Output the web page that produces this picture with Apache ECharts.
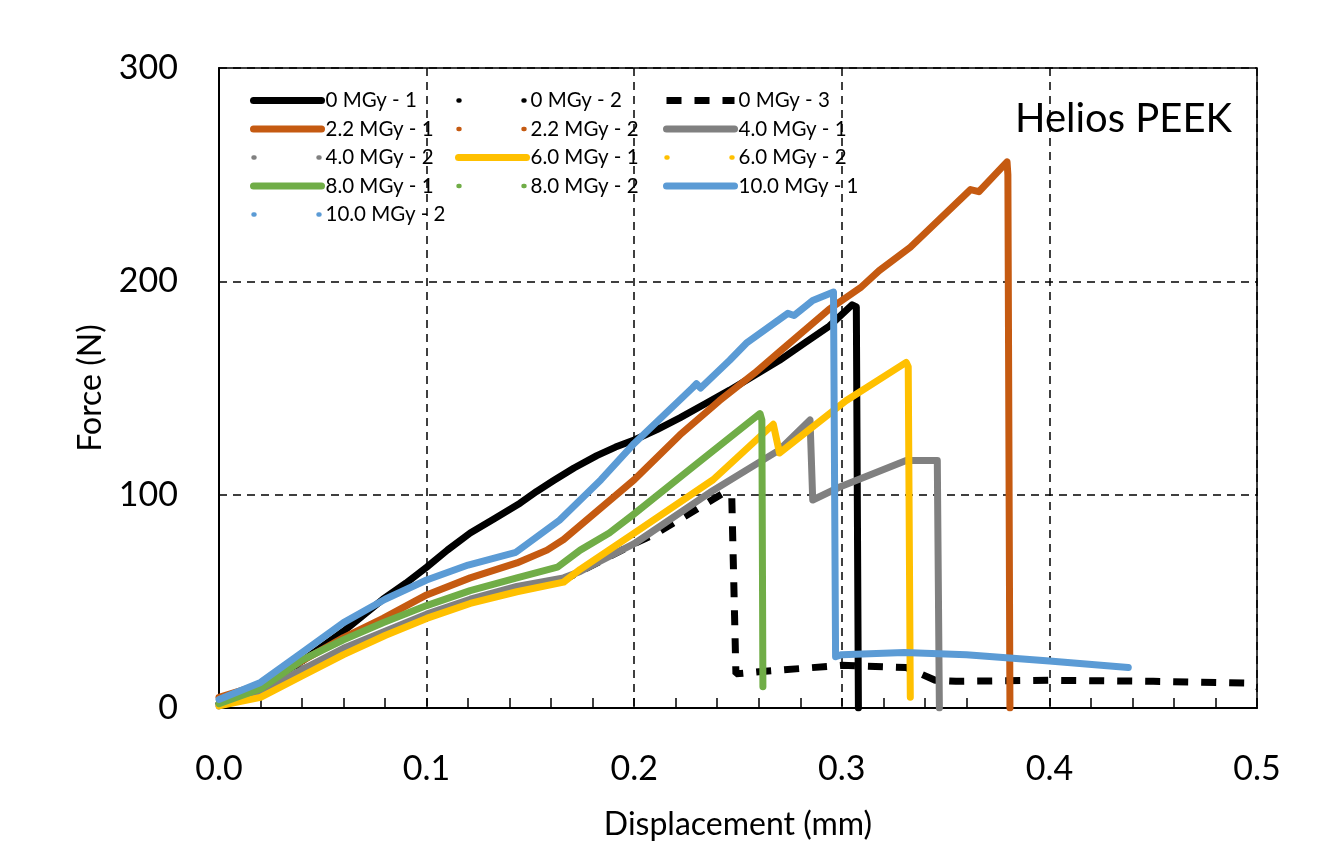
<!DOCTYPE html>
<html>
<head>
<meta charset="utf-8">
<script src="https://cdn.jsdelivr.net/npm/echarts@6/dist/echarts.min.js"></script>
<style>
  html, body { margin: 0; padding: 0; background: #fff; }
  #chart { width: 1332px; height: 857px; }
</style>
</head>
<body>
<div id="chart"></div>
<script>
// [displacement (mm), force (N)]
var mgy0_1 = [[0, 2], [0.02, 10], [0.04, 22], [0.06, 36], [0.079, 51], [0.09, 58.5], [0.1, 66], [0.11, 74],
  [0.121, 82], [0.133, 89], [0.145, 96], [0.153, 101.5], [0.161, 106.5], [0.171, 112.5], [0.182, 118.3],
  [0.191, 122.3], [0.2, 125.6], [0.211, 130.5], [0.222, 136], [0.234, 142.5], [0.246, 149], [0.258, 156],
  [0.27, 163], [0.282, 171], [0.294, 179], [0.305, 189], [0.307, 188], [0.308, 0]];
var mgy0_2 = [];
var mgy0_3 = [[0, 2], [0.05, 22], [0.1, 43], [0.14, 55], [0.166, 60], [0.2, 77], [0.211, 82], [0.243, 100.8],
  [0.247, 99], [0.249, 16], [0.26, 17], [0.3, 20], [0.331, 19], [0.345, 13], [0.355, 12.5], [0.4, 13],
  [0.45, 12.5], [0.495, 11.7], [0.5, 10]];
var mgy22_1 = [[0, 5], [0.02, 11], [0.04, 22], [0.06, 33], [0.079, 42], [0.1, 53], [0.121, 61], [0.1435, 68],
  [0.158, 74], [0.166, 79], [0.2, 107], [0.222, 128], [0.241, 144], [0.258, 157], [0.27, 167], [0.294, 187],
  [0.309, 197], [0.318, 205], [0.333, 216], [0.362, 243], [0.366, 242], [0.3796, 256], [0.38, 250], [0.381, 0]];
var mgy22_2 = [];
var mgy40_1 = [[0, 1], [0.02, 7], [0.04, 18], [0.06, 28], [0.08, 36], [0.1, 44], [0.121, 51], [0.1435, 57],
  [0.166, 61], [0.174, 64], [0.2, 77], [0.238, 102], [0.27, 121], [0.2847, 135], [0.286, 97.5],
  [0.299, 103.6], [0.331, 116], [0.346, 116], [0.347, 0]];
var mgy40_2 = [];
var mgy60_1 = [[0, 1], [0.02, 5], [0.04, 15], [0.06, 25], [0.08, 34], [0.1, 42], [0.121, 49], [0.1435, 54.5],
  [0.166, 59], [0.174, 65], [0.2, 82], [0.238, 107], [0.267, 133], [0.27, 119.5], [0.302, 144],
  [0.331, 162], [0.332, 160], [0.333, 5]];
var mgy60_2 = [];
var mgy80_1 = [[0, 2], [0.02, 9], [0.04, 22.5], [0.06, 32], [0.079, 40], [0.1, 48], [0.121, 55], [0.1435, 61],
  [0.163, 66], [0.174, 74], [0.188, 82], [0.2, 91], [0.227, 112], [0.2606, 138], [0.2615, 135], [0.262, 10]];
var mgy80_2 = [];
var mgy100_1 = [[0, 4], [0.02, 12], [0.04, 26], [0.06, 40], [0.08, 51], [0.1, 60], [0.12, 67], [0.143, 73],
  [0.164, 88], [0.184, 107], [0.2, 124], [0.228, 150], [0.23, 152], [0.232, 150], [0.246, 163],
  [0.254, 171], [0.274, 185], [0.277, 184], [0.286, 191], [0.296, 195], [0.297, 24], [0.3, 25],
  [0.33, 26], [0.36, 25], [0.4, 22], [0.438, 19]];
var mgy100_2 = [];

var xTicks = [0, 0.1, 0.2, 0.3, 0.4, 0.5];
var yTicks = [0, 100, 200, 300];

var font = 'Lato, "Open Sans", sans-serif';

function solid(name, data, color) {
  return {
    name: name, type: 'line', data: data, symbol: 'none', animation: false,
    lineStyle: { color: color, width: 7, cap: 'round', join: 'round' },
    itemStyle: { color: color }
  };
}
function sparse(name, data, color) {
  return {
    name: name, type: 'line', data: data, symbol: 'none', animation: false,
    lineStyle: { color: color, width: 4.5, type: [1, 64], cap: 'round' },
    itemStyle: { color: color }
  };
}

var series = [
  solid('0 MGy - 1', mgy0_1, '#000000'),
  sparse('0 MGy - 2', mgy0_2, '#000000'),
  {
    name: '0 MGy - 3', type: 'line', data: mgy0_3, symbol: 'none', animation: false,
    lineStyle: { color: '#000000', width: 7, type: [15, 13], cap: 'butt' },
    itemStyle: { color: '#000000' }
  },
  solid('2.2 MGy - 1', mgy22_1, '#C55A11'),
  sparse('2.2 MGy - 2', mgy22_2, '#C55A11'),
  solid('4.0 MGy - 1', mgy40_1, '#808080'),
  sparse('4.0 MGy - 2', mgy40_2, '#808080'),
  solid('6.0 MGy - 1', mgy60_1, '#FFC000'),
  sparse('6.0 MGy - 2', mgy60_2, '#FFC000'),
  solid('8.0 MGy - 1', mgy80_1, '#70AD47'),
  sparse('8.0 MGy - 2', mgy80_2, '#70AD47'),
  solid('10.0 MGy - 1', mgy100_1, '#5B9BD5'),
  sparse('10.0 MGy - 2', mgy100_2, '#5B9BD5')
];

function legendCol(left, names) {
  return {
    orient: 'vertical', left: left, top: 90, padding: 0,
    itemWidth: 68, itemHeight: 12, itemGap: 7.5,
    selectedMode: false, data: names,
    itemStyle: { opacity: 0 },
    lineStyle: { width: 'inherit' },
    textStyle: { fontFamily: font, fontSize: 20.5, color: '#000', lineHeight: 21, padding: [0, 0, 0, -1] }
  };
}

var chart = echarts.init(document.getElementById('chart'));
chart.setOption({
  backgroundColor: '#fff',
  animation: false,
  title: {
    text: 'Helios PEEK', right: 95, top: 94,
    textStyle: { fontFamily: font, fontSize: 40, fontWeight: 'normal', color: '#000' }
  },
  legend: [
    legendCol(250, ['0 MGy - 1', '2.2 MGy - 1', '4.0 MGy - 2', '8.0 MGy - 1', '10.0 MGy - 2']),
    legendCol(455, ['0 MGy - 2', '2.2 MGy - 2', '6.0 MGy - 1', '8.0 MGy - 2']),
    legendCol(663, ['0 MGy - 3', '4.0 MGy - 1', '6.0 MGy - 2', '10.0 MGy - 1'])
  ],
  grid: {
    left: 219, right: 75, top: 68, bottom: 149,
    show: true, borderColor: '#000', borderWidth: 1.5
  },
  xAxis: {
    type: 'value', min: xTicks[0], max: xTicks[xTicks.length - 1], interval: 0.1,
    name: 'Displacement (mm)', nameLocation: 'middle', nameGap: 101,
    nameTextStyle: { fontFamily: font, fontSize: 32, color: '#000' },
    axisLine: { show: true, lineStyle: { color: '#000', width: 2 } },
    axisTick: { show: true, inside: true, length: 10, lineStyle: { color: '#000', width: 1.5 } },
    minorTick: { show: true, splitNumber: 5, length: 10, lineStyle: { color: '#000', width: 1.5 } },
    axisLabel: {
      fontFamily: font, fontSize: 34, color: '#000', margin: 44,
      formatter: function (v) { return v.toFixed(1); }
    },
    splitLine: { show: true, lineStyle: { color: '#000', width: 1.5, type: [8, 6] } }
  },
  yAxis: {
    type: 'value', min: yTicks[0], max: yTicks[yTicks.length - 1], interval: 100,
    name: 'Force (N)', nameLocation: 'middle', nameGap: 112,
    nameTextStyle: { fontFamily: font, fontSize: 32, color: '#000' },
    axisLine: { show: true, lineStyle: { color: '#000', width: 2 } },
    axisTick: { show: false },
    axisLabel: { fontFamily: font, fontSize: 34, color: '#000', margin: 41 },
    splitLine: { show: true, lineStyle: { color: '#000', width: 1.5, type: [8, 6] } }
  },
  series: series
});
</script>
</body>
</html>
